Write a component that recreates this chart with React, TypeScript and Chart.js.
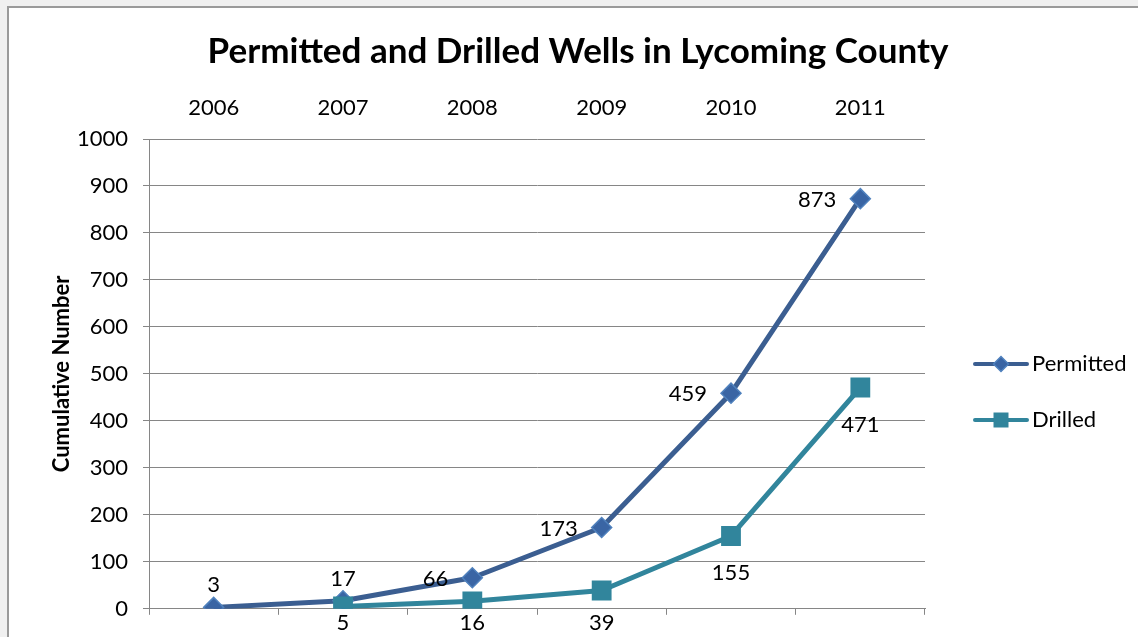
import React, { useEffect, useRef } from 'react';
import { Chart, registerables } from 'chart.js';

Chart.register(...registerables);

const chartTitle = 'Permitted and Drilled Wells in Lycoming County';
const yAxisTitle = 'Cumulative Number';
const years = ['2006', '2007', '2008', '2009', '2010', '2011'];
const permitted = [3, 17, 66, 173, 459, 873];
const drilled = [null, 5, 16, 39, 155, 471];
const yMin = 0;
const yMax = 1000;
const yStep = 100;

const permittedLabelPos = ['above', 'above', 'left', 'left', 'left', 'left'];
const drilledLabelPos = ['below', 'below', 'below', 'below', 'below', 'below'];

const FONT = 'Lato, "Open Sans", sans-serif';
const GRID = '#868686';
const TXT = 22;

const chromePlugin = {
  id: 'chrome',
  beforeDraw(chart: any) {
    const { ctx, width, height } = chart;
    ctx.save();
    ctx.fillStyle = '#f0f0f0';
    ctx.fillRect(0, 0, width, height);
    ctx.fillStyle = '#ffffff';
    ctx.fillRect(7, 6, width - 7, height - 6);
    ctx.fillStyle = '#9a9a9a';
    ctx.fillRect(7, 6, width - 7, 2);
    ctx.fillRect(7, 6, 2, height - 6);
    // title
    ctx.fillStyle = '#000';
    ctx.font = `bold 35px ${FONT}`;
    ctx.textAlign = 'center';
    ctx.textBaseline = 'middle';
    ctx.fillText(chartTitle, 578, 52);
    // y title
    const ca = chart.chartArea;
    ctx.translate(62, (ca.top + ca.bottom) / 2);
    ctx.rotate(-Math.PI / 2);
    ctx.font = `bold 22px ${FONT}`;
    ctx.fillText(yAxisTitle, 0, 0);
    ctx.restore();
  },
};

function drawMarker(ctx: any, style: string, x: number, y: number, r: number, fill: string, stroke: string, bw: number) {
  ctx.beginPath();
  if (style === 'rectRot') {
    ctx.moveTo(x - r, y);
    ctx.lineTo(x, y - r);
    ctx.lineTo(x + r, y);
    ctx.lineTo(x, y + r);
    ctx.closePath();
  } else {
    const s = r * Math.SQRT1_2;
    ctx.rect(x - s, y - s, 2 * s, 2 * s);
  }
  ctx.fillStyle = fill;
  ctx.fill();
  if (bw > 0) {
    ctx.lineWidth = bw;
    ctx.strokeStyle = stroke;
    ctx.stroke();
  }
}

const overlayPlugin = {
  id: 'overlay',
  afterDatasetsDraw(chart: any) {
    const { ctx } = chart;
    ctx.save();
    ctx.font = `${TXT}px ${FONT}`;
    ctx.fillStyle = '#000';
    ctx.textBaseline = 'middle';
    chart.data.datasets.forEach((ds: any, di: number) => {
      const meta = chart.getDatasetMeta(di);
      meta.data.forEach((pt: any, i: number) => {
        const v = ds.data[i];
        if (v === null || v === undefined) return;
        const pos = ds.labelPos[i];
        const text = String(v);
        let x = pt.x;
        let y = pt.y;
        if (pos === 'above') {
          ctx.textAlign = 'center';
          y = pt.y - 22;
        } else if (pos === 'below') {
          ctx.textAlign = 'center';
          y = Math.min(pt.y + 37, 623);
        } else {
          ctx.textAlign = 'right';
          x = pt.x - 24;
          y = pt.y + 1;
        }
        ctx.fillText(text, x, y);
      });
    });
    // legend
    const legendRows = [chart.data.datasets[1], chart.data.datasets[0]];
    legendRows.forEach((ds: any, i: number) => {
      const y = 364 + i * 56;
      ctx.lineCap = 'round';
      ctx.lineWidth = 4;
      ctx.strokeStyle = ds.borderColor;
      ctx.beginPath();
      ctx.moveTo(975, y);
      ctx.lineTo(1027, y);
      ctx.stroke();
      drawMarker(
        ctx,
        ds.pointStyle,
        1001,
        y,
        ds.pointStyle === 'rectRot' ? 7.5 : 10.6,
        ds.pointBackgroundColor,
        ds.pointBorderColor,
        ds.pointBorderWidth
      );
      ctx.fillStyle = '#000';
      ctx.textAlign = 'left';
      ctx.fillText(ds.label, 1032, y);
    });
    ctx.restore();
  },
};

export default function App() {
  const ref = useRef<HTMLCanvasElement | null>(null);
  useEffect(() => {
    if (!ref.current) return;
    const chart = new Chart(ref.current, {
      type: 'line',
      data: {
        labels: years,
        datasets: [
          {
            label: 'Drilled',
            data: drilled,
            labelPos: drilledLabelPos,
            borderColor: '#31859C',
            borderWidth: 5,
            pointStyle: 'rect',
            pointRadius: 14,
            pointBackgroundColor: '#31859C',
            pointBorderColor: '#31859C',
            pointBorderWidth: 0,
            borderJoinStyle: 'round',
            tension: 0,
          } as any,
          {
            label: 'Permitted',
            data: permitted,
            labelPos: permittedLabelPos,
            borderColor: '#3B5E91',
            borderWidth: 5,
            pointStyle: 'rectRot',
            pointRadius: 10,
            pointBackgroundColor: '#3A65A4',
            pointBorderColor: '#4F81BD',
            pointBorderWidth: 1.5,
            borderJoinStyle: 'round',
            tension: 0,
          } as any,
        ],
      },
      options: {
        responsive: false,
        animation: false,
        layout: { padding: { left: 0, top: 0, right: 213, bottom: 0 } },
        plugins: {
          legend: { display: false },
          tooltip: { enabled: false },
          title: { display: false },
        },
        scales: {
          x: {
            type: 'category',
            position: 'bottom',
            offset: true,
            grid: { offset: true, drawOnChartArea: false, drawTicks: true, tickLength: 6, color: GRID },
            border: { display: true, color: GRID, width: 1 },
            ticks: { display: false },
            afterFit: (s: any) => { s.height = 26; },
          },
          x2: {
            type: 'category',
            axis: 'x',
            position: 'top',
            labels: years,
            min: years[0],
            max: years[years.length - 1],
            offset: true,
            grid: { display: false },
            border: { display: false },
            ticks: { font: { family: FONT, size: TXT }, color: '#000', padding: 10 },
            afterFit: (s: any) => { s.height = 139; },
          },
          y: {
            position: 'left',
            min: yMin,
            max: yMax,
            ticks: {
              stepSize: yStep,
              font: { family: FONT, size: TXT },
              color: '#000',
              padding: 15,
              callback: (v: any) => String(v),
            },
            grid: { color: GRID, drawTicks: true, tickLength: 6, lineWidth: 1 },
            border: { display: true, color: GRID, width: 1 },
            afterFit: (s: any) => { s.width = 149; },
          },
        },
      } as any,
      plugins: [chromePlugin, overlayPlugin],
    });
    return () => chart.destroy();
  }, []);
  return (
    <canvas
      ref={ref}
      width={1138}
      height={637}
      style={{ position: 'absolute', left: 0, top: 0, display: 'block' }}
    />
  );
}
